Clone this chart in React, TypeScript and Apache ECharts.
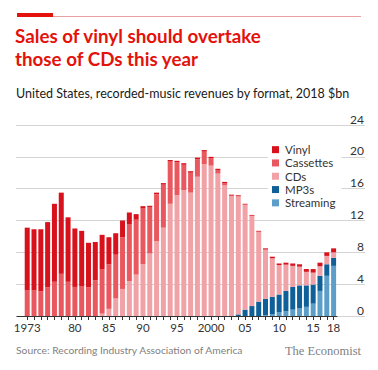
import React, { useEffect, useRef } from "react";
import * as echarts from "echarts";

const years = [
  1973, 1974, 1975, 1976, 1977, 1978, 1979, 1980, 1981, 1982, 1983, 1984, 1985, 1986, 1987, 1988,
  1989, 1990, 1991, 1992, 1993, 1994, 1995, 1996, 1997, 1998, 1999, 2000, 2001, 2002, 2003, 2004,
  2005, 2006, 2007, 2008, 2009, 2010, 2011, 2012, 2013, 2014, 2015, 2016, 2017, 2018,
];

const vinyl = [
  7.9, 7.7, 7.8, 8.2, 9.8, 10.2, 8.1, 7.35, 7.0, 5.6, 4.8, 4.3, 3.4, 2.7, 2.1, 1.5,
  0.7, 0.3, 0.15, 0.2, 0.2, 0.2, 0.2, 0.2, 0.2, 0.2, 0.2, 0.15, 0.15, 0.15, 0.12, 0.12,
  0.1, 0.1, 0.1, 0.15, 0.2, 0.2, 0.25, 0.3, 0.3, 0.35, 0.45, 0.45, 0.45, 0.5,
];

const cassettes = [
  3.2, 3.2, 3.1, 3.6, 4.3, 5.3, 4.3, 3.65, 3.7, 3.6, 4.5, 5.6, 5.6, 5.5, 6.5, 7.1,
  6.9, 7.0, 5.85, 5.9, 5.4, 5.3, 4.1, 3.2, 2.5, 2.2, 1.55, 0.95, 0.45, 0.25, 0.08, 0,
  0, 0, 0, 0, 0, 0, 0, 0, 0, 0, 0, 0, 0, 0,
];

const cds = [
  0, 0, 0, 0, 0, 0, 0, 0, 0, 0, 0, 0.3, 0.9, 2.2, 3.4, 4.4,
  5.2, 6.5, 7.85, 9.4, 11.1, 14.1, 15.2, 15.8, 15.5, 17.5, 19.1, 18.9, 17.9, 16.45, 15.05, 14.85,
  13.2, 11.35, 8.8, 6.2, 4.85, 3.7, 3.3, 2.65, 2.35, 1.7, 1.5, 1.2, 1.05, 0.7,
];

const mp3s = [
  0, 0, 0, 0, 0, 0, 0, 0, 0, 0, 0, 0, 0, 0, 0, 0,
  0, 0, 0, 0, 0, 0, 0, 0, 0, 0, 0, 0, 0, 0, 0, 0.2,
  0.8, 1.25, 1.8, 2.05, 2.2, 2.2, 2.55, 2.85, 2.9, 2.7, 2.4, 1.9, 1.45, 1.0,
];

const streaming = [
  0, 0, 0, 0, 0, 0, 0, 0, 0, 0, 0, 0, 0, 0, 0, 0,
  0, 0, 0, 0, 0, 0, 0, 0, 0, 0, 0, 0, 0, 0, 0, 0,
  0, 0, 0, 0.1, 0.2, 0.5, 0.6, 0.8, 0.95, 1.15, 1.55, 3.15, 5.05, 6.3,
];

const labelYears = [1973, 1980, 1985, 1990, 1995, 2000, 2005, 2010, 2015, 2018];
const labelTexts = ["1973", "80", "85", "90", "95", "2000", "05", "10", "15", "18"];

const yTicks = [0, 4, 8, 12, 16, 20, 24];

const seriesNames = ["Vinyl", "Cassettes", "CDs", "MP3s", "Streaming"];
const seriesColors = ["#d8121c", "#e9585f", "#f1a2a7", "#0f5f99", "#5b9ec9"];

const FONT = "Lato, 'Open Sans', sans-serif";

export default function App() {
  const ref = useRef<HTMLDivElement>(null);

  useEffect(() => {
    if (!ref.current) return;
    const chart = echarts.init(ref.current, undefined, { renderer: "svg" });

    const cats = ["", ...years.map(String)];
    const pad = (arr: number[]) => [null, ...arr];
    const valuesByName: Record<string, number[]> = {
      Vinyl: vinyl,
      Cassettes: cassettes,
      CDs: cds,
      MP3s: mp3s,
      Streaming: streaming,
    };
    const stackOrder = ["Streaming", "MP3s", "CDs", "Cassettes", "Vinyl"];

    const series = stackOrder.map((name) => ({
      name,
      type: "bar",
      stack: "total",
      xAxisIndex: 0,
      yAxisIndex: 0,
      barWidth: 5,
      data: pad(valuesByName[name]),
      itemStyle: { color: seriesColors[seriesNames.indexOf(name)] },
      emphasis: { disabled: true },
    }));

    chart.setOption({
      animation: false,
      backgroundColor: "#fff",
      textStyle: { fontFamily: FONT },
      title: [
        {
          text: "Sales of vinyl should overtake\nthose of CDs this year",
          left: 15,
          top: 24,
          padding: 0,
          textStyle: {
            fontFamily: FONT,
            fontSize: 18.8,
            fontWeight: "bold",
            color: "#e3120b",
            lineHeight: 23,
          },
        },
        {
          text: "United States, recorded-music revenues by format, 2018 $bn",
          left: 16,
          top: 87,
          padding: 0,
          textStyle: {
            fontFamily: FONT,
            fontSize: 12.5,
            fontWeight: "normal",
            color: "#1a1a1a",
          },
        },
        {
          text: "Source: Recording Industry Association of America",
          left: 16,
          top: 345,
          padding: 0,
          textStyle: {
            fontFamily: FONT,
            fontSize: 10.3,
            fontWeight: "normal",
            color: "#7f7f7f",
          },
        },
        {
          text: "The Economist",
          right: 17,
          top: 344,
          padding: 0,
          textStyle: {
            fontFamily: "'Liberation Serif', 'DejaVu Serif', serif",
            fontSize: 12.5,
            fontWeight: "normal",
            color: "#7f7f7f",
          },
        },
      ],
      graphic: [
        { type: "rect", left: 17, top: 13, shape: { width: 36, height: 4 }, style: { fill: "#e3120b" } },
        { type: "rect", left: 53, top: 16, shape: { width: 308, height: 1 }, style: { fill: "#e8a0a0" } },
      ],
      legend: {
        data: seriesNames,
        orient: "vertical",
        left: 268,
        top: 141,
        padding: [2, 6, 2, 4],
        itemGap: 0,
        itemWidth: 7,
        itemHeight: 7,
        icon: "rect",
        backgroundColor: "#fff",
        selectedMode: false,
        textStyle: { fontFamily: FONT, fontSize: 11.5, color: "#333", lineHeight: 13.3, padding: [0, 0, 0, 1] },
      },
      grid: [
        { left: 17, right: 41, top: 125, height: 191 },
        { left: 16, right: 13, top: 125, height: 191 },
      ],
      xAxis: [
        {
          type: "category",
          gridIndex: 0,
          data: cats,
          boundaryGap: true,
          z: 5,
          axisLine: { show: true, lineStyle: { color: "#333", width: 1 } },
          axisTick: {
            show: true,
            alignWithLabel: true,
            length: 4,
            interval: (i: number) => i > 0,
            lineStyle: { color: "#333" },
          },
          axisLabel: {
            interval: (_i: number, v: string) => labelYears.includes(Number(v)),
            formatter: (v: string) => {
              const k = labelYears.indexOf(Number(v));
              return k >= 0 ? labelTexts[k] : "";
            },
            fontFamily: FONT,
            fontSize: 11.5,
            color: "#333",
            margin: 5,
          },
          splitLine: { show: false },
        },
        {
          type: "value",
          gridIndex: 1,
          show: false,
          min: 0,
          max: 1,
        },
      ],
      yAxis: [
        { type: "value", gridIndex: 0, min: 0, max: 24, interval: 4, show: false },
        {
          type: "value",
          gridIndex: 1,
          min: yTicks[0],
          max: yTicks[yTicks.length - 1],
          interval: 4,
          position: "right",
          axisLine: { show: false },
          axisTick: { show: false },
          splitLine: { show: true, lineStyle: { color: "#d4d4d4", width: 1 } },
          axisLabel: {
            inside: true,
            margin: 1,
            verticalAlign: "bottom",
            align: "right",
            fontFamily: FONT,
            fontSize: 12,
            color: "#333",
          },
        },
      ],
      series,
    });

    return () => chart.dispose();
  }, []);

  return <div ref={ref} style={{ width: 378, height: 370, margin: -8 }} />;
}
